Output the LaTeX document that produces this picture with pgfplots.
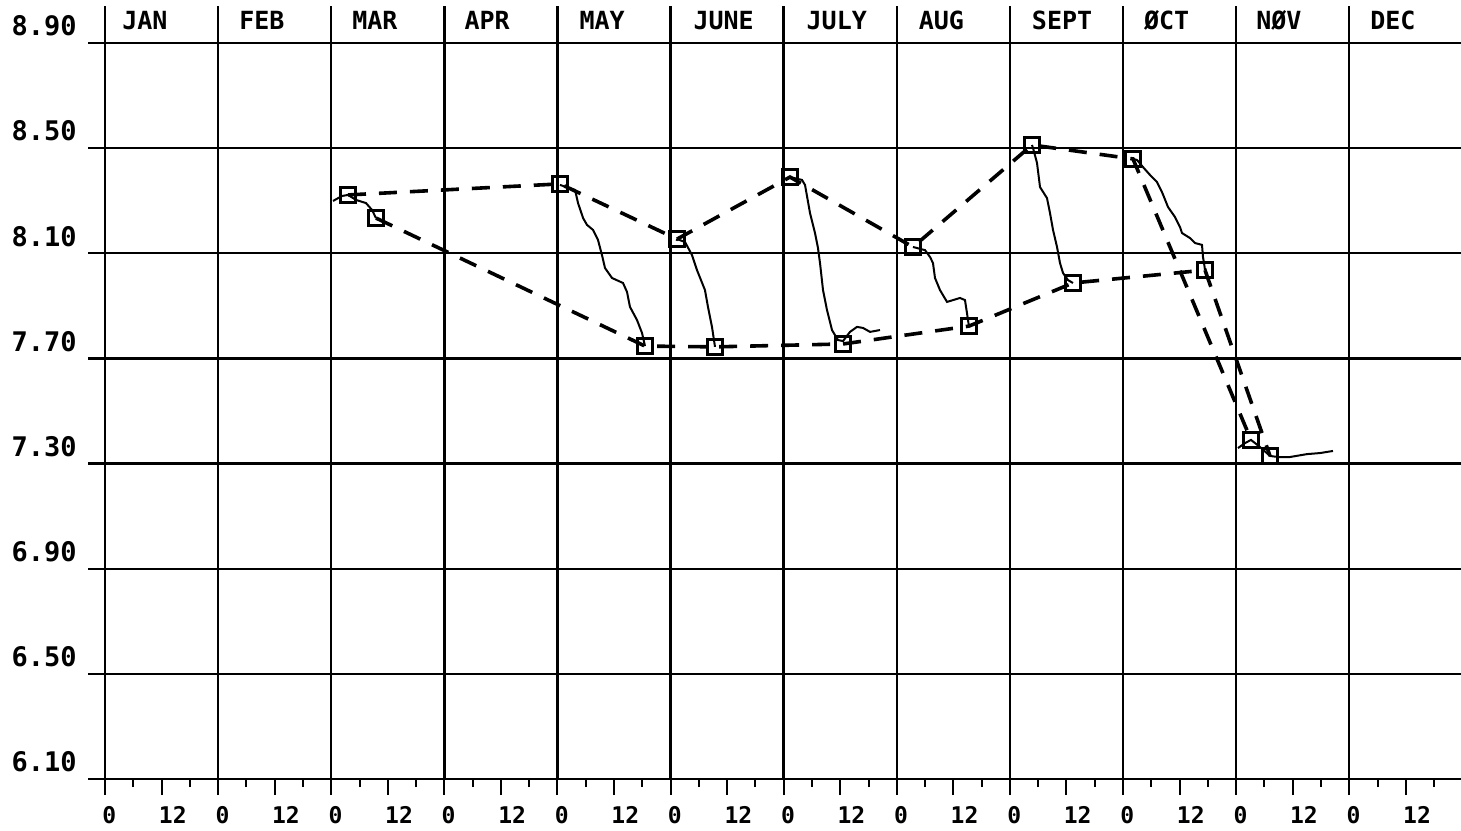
\documentclass[border=0pt]{standalone}
\usepackage{pgfplots}
\pgfplotsset{compat=1.18}
\usepackage{fontspec}
\setmainfont{DejaVu Sans Mono}

\begin{document}
\begin{tikzpicture}
\begin{axis}[
  width=678pt, height=368pt, scale only axis,
  xmin=0, xmax=287.72, ymin=6.1, ymax=8.9,
  clip=false,
  axis lines*=left,
  axis line style={line width=1.2pt},
  xtick={0,12,...,276},
  xticklabels={0,12,0,12,0,12,0,12,0,12,0,12,0,12,0,12,0,12,0,12,0,12,0,12},
  minor xtick={6,18,...,282},
  tick align=outside,
  major tick length=8pt, minor tick length=4pt,
  xtick style={line width=1pt, black},
  xticklabel style={font=\bfseries\fontsize{11.5}{11.5}\selectfont, inner sep=0pt, anchor=north west, xshift=-1.5pt, yshift=-5.5pt},
  ytick={6.1,6.5,6.9,7.3,7.7,8.1,8.5,8.9},
  ytick style={draw=none},
  yticklabel style={/pgf/number format/fixed, /pgf/number format/fixed zerofill,
    /pgf/number format/precision=2, /pgf/number format/assume math mode=true,
    font=\bfseries\fontsize{13.5}{13.5}\selectfont, inner sep=0pt, anchor=east, xshift=-6pt, yshift=8.5pt},
]
% grid: horizontal lines reach a bit left of the frame, month lines rise above it
\pgfplotsinvokeforeach{6.1,6.5,6.9,7.3,7.7,8.1,8.5,8.9}{
  \draw[line width=1.2pt] (axis cs:-3.6,#1) -- (axis cs:287.72,#1);
}
\pgfplotsinvokeforeach{0,24,...,264}{
  \draw[line width=1.2pt] (axis cs:#1,6.1) -- (axis cs:#1,9.04);
}

% month names
\begin{scope}[every node/.style={anchor=west, inner sep=0pt, font=\bfseries\fontsize{12.5}{12.5}\selectfont}]
\node at (axis cs:3.6,8.986) {JAN};
\node at (axis cs:28.4,8.986) {FEB};
\node at (axis cs:52.4,8.986) {MAR};
\node at (axis cs:76.2,8.986) {APR};
\node at (axis cs:100.6,8.986) {MAY};
\node at (axis cs:124.8,8.986) {JUNE};
\node at (axis cs:148.8,8.986) {JULY};
\node at (axis cs:172.6,8.986) {AUG};
\node at (axis cs:196.6,8.986) {SEPT};
\node at (axis cs:220.4,8.986) {ØCT};
\node at (axis cs:244.2,8.986) {NØV};
\node at (axis cs:268.4,8.986) {DEC};
\end{scope}

% upper readings (dashed, squares)
\addplot[line width=1.8pt, dash pattern=on 9pt off 6.5pt, mark=square, mark size=3.75pt,
  mark options={solid, line width=1.2pt, fill=none}] coordinates {
  (51.56,8.322) (96.54,8.364) (121.37,8.154) (145.34,8.390) (171.44,8.124)
  (196.69,8.512) (218.12,8.459) (243.16,7.390)};
% lower readings (dashed, squares)
\addplot[line width=1.8pt, dash pattern=on 9pt off 6.5pt, mark=square, mark size=3.75pt,
  mark options={solid, line width=1.2pt, fill=none}] coordinates {
  (57.50,8.234) (114.58,7.747) (129.43,7.744) (156.59,7.755) (183.32,7.823)
  (205.39,7.987) (233.40,8.036) (247.19,7.329)};

% continuous records within each month
\addplot[line width=1pt] coordinates {
  (48.38,8.299) (50.29,8.318) (51.56,8.322) (53.26,8.303) (55.38,8.291) (56.65,8.265) (57.50,8.234)};
\addplot[line width=1pt] coordinates {
  (96.54,8.360) (99.73,8.341) (100.37,8.291) (101.44,8.234) (102.27,8.208) (103.54,8.189)
  (104.60,8.151) (105.45,8.093) (106.09,8.044) (107.58,8.006) (109.91,7.987) (110.76,7.953)
  (111.39,7.896) (112.88,7.846) (113.94,7.797) (114.58,7.747)};
\addplot[line width=1pt] coordinates {
  (121.37,8.154) (123.07,8.143) (124.55,8.093) (125.61,8.036) (127.30,7.960) (127.94,7.896)
  (128.79,7.820) (129.43,7.744)};
\addplot[line width=1pt] coordinates {
  (145.34,8.390) (147.89,8.379) (148.53,8.360) (149.59,8.253) (150.65,8.177) (151.28,8.120)
  (151.71,8.063) (152.35,7.960) (153.19,7.884) (154.25,7.808) (155.52,7.770) (156.59,7.766)
  (158.07,7.801) (159.56,7.820) (160.83,7.816) (162.32,7.801) (164.44,7.808)};
\addplot[line width=1pt] coordinates {
  (171.44,8.124) (173.99,8.112) (175.05,8.086) (175.68,8.063) (176.11,8.006) (177.17,7.960)
  (178.66,7.915) (181.41,7.930) (182.47,7.922) (182.89,7.873) (183.11,7.846) (183.32,7.823)};
\addplot[line width=1pt] coordinates {
  (196.69,8.512) (196.90,8.501) (197.75,8.444) (198.39,8.352) (199.87,8.310) (200.51,8.253)
  (201.15,8.189) (202.00,8.124) (202.63,8.063) (203.27,8.025) (204.33,7.998) (205.39,7.987)};
\addplot[line width=1pt] coordinates {
  (218.12,8.459) (218.97,8.455) (220.24,8.428) (221.73,8.398) (223.21,8.371) (224.27,8.333)
  (225.55,8.276) (227.03,8.238) (228.09,8.200) (228.52,8.177) (230.21,8.158) (231.28,8.139)
  (232.76,8.132) (232.97,8.086) (233.19,8.063) (233.40,8.036)};
\addplot[line width=1pt] coordinates {
  (240.40,7.359) (241.89,7.378) (243.16,7.390) (245.07,7.363) (247.19,7.329) (248.89,7.325)
  (251.43,7.325) (255.04,7.336) (257.80,7.340) (260.55,7.348)};

\coordinate (bl) at (axis cs:-22.28,5.906);
\coordinate (tr) at (axis cs:287.72,9.0636);
\end{axis}
\pgfresetboundingbox
\useasboundingbox (bl) rectangle (tr);
\end{tikzpicture}
\end{document}
